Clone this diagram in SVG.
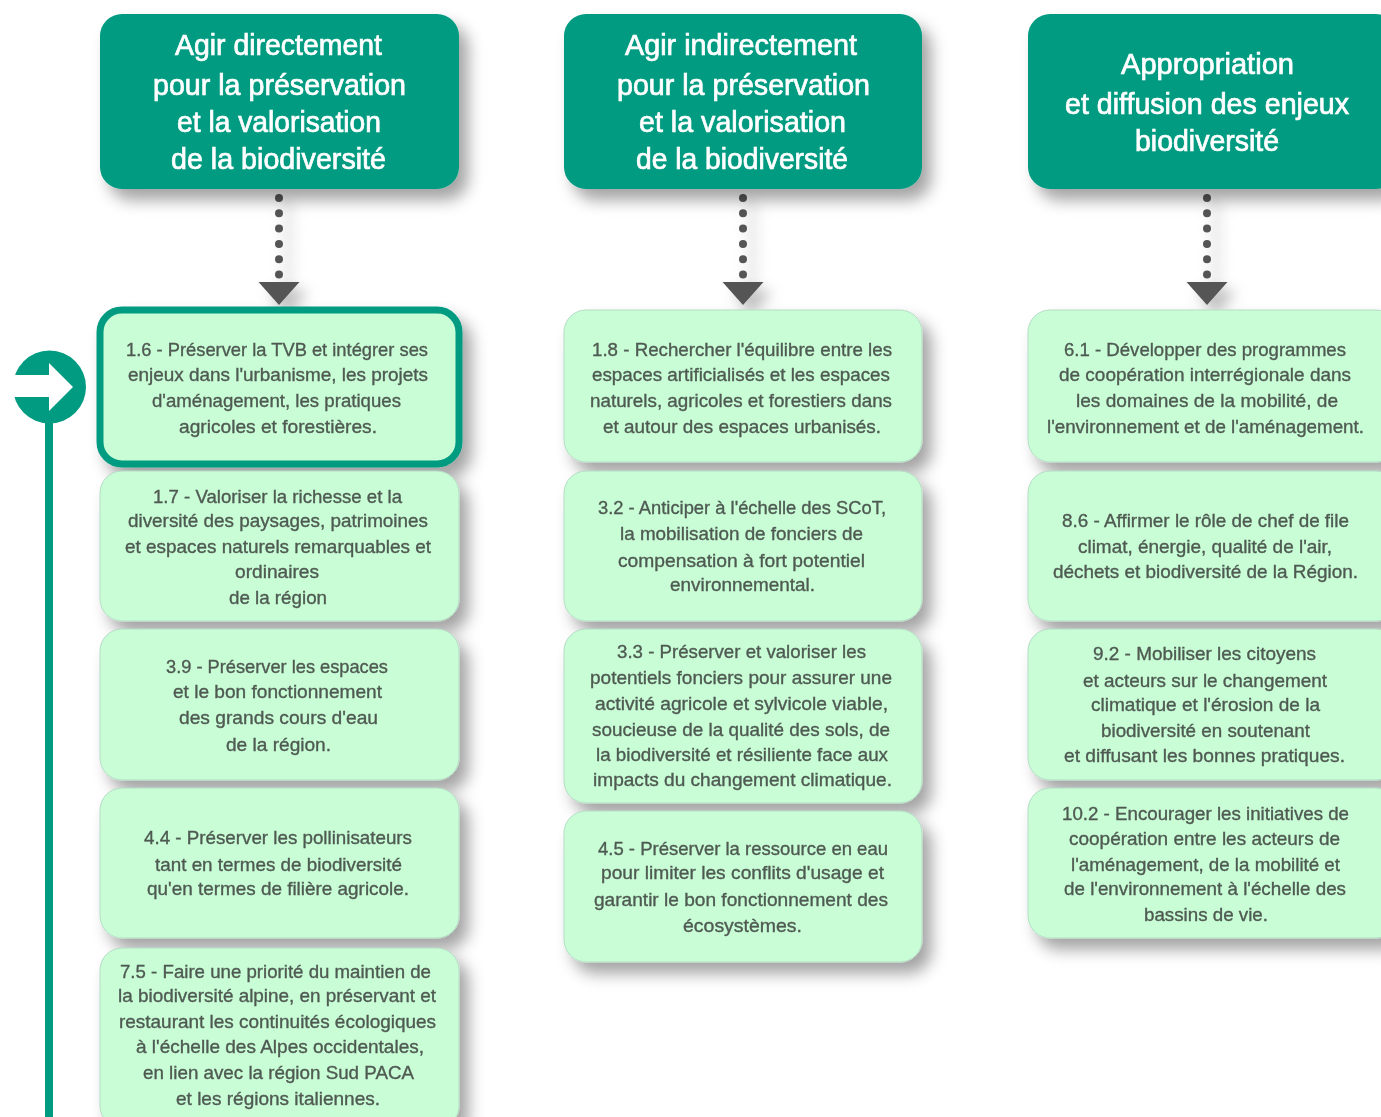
<svg xmlns="http://www.w3.org/2000/svg" width="1381" height="1117" viewBox="0 0 1381 1117">
<defs>
<filter id="sh" x="-15%" y="-20%" width="140%" height="155%"><feDropShadow dx="9" dy="11" stdDeviation="8" flood-color="#000" flood-opacity="0.36"/></filter>
<filter id="sha" x="-150%" y="-20%" width="400%" height="150%"><feDropShadow dx="9" dy="9" stdDeviation="7" flood-color="#000" flood-opacity="0.28"/></filter>
<filter id="soft" x="-5%" y="-20%" width="110%" height="140%"><feGaussianBlur stdDeviation="0.7"/></filter>
<filter id="edge" x="-5%" y="-5%" width="110%" height="110%"><feGaussianBlur stdDeviation="0.6"/></filter>
<g id="link"><g fill="#555"><circle cx="0" cy="198" r="4"/><circle cx="0" cy="213.300" r="4"/><circle cx="0" cy="228.600" r="4"/><circle cx="0" cy="243.900" r="4"/><circle cx="0" cy="259.200" r="4"/><circle cx="0" cy="274.500" r="4"/><path d="M-20.500 282H20.500L0 305Z"/></g></g>
</defs>
<style>
.h{fill:#009b80;filter:url(#sh)}
.b{fill:#c8fdd6;stroke:#b4dcc4;stroke-width:1;filter:url(#sh)}
.t{font-family:"Liberation Sans",Arial,sans-serif;text-anchor:middle;filter:url(#soft)}
.ht{font-size:29px;fill:#fff;stroke:#fff;stroke-width:0.7px}
.bt{font-size:18.500px;fill:#4f5a52;stroke:#4f5a52;stroke-width:0.35px}
</style>
<rect width="1381" height="1117" fill="#fff"/>
<g id="connectors">
<use href="#link" x="279" filter="url(#sha)"/>
<use href="#link" x="743" filter="url(#sha)"/>
<use href="#link" x="1207" filter="url(#sha)"/>
</g>
<g id="marker" filter="url(#edge)">
<rect x="45" y="415" width="8" height="702" fill="#009b80"/>
<circle cx="49.500" cy="387" r="36.500" fill="#009b80"/>
<path d="M10 375H49V363L73 387L49 411V397H10Z" fill="#fff"/>
</g>
<g id="head-1"><rect class="h" x="100" y="14" width="359" height="175" rx="22"/>
<g class="t ht"><text x="278.500" y="55" textLength="207" lengthAdjust="spacingAndGlyphs">Agir directement</text><text x="279.500" y="95" textLength="253" lengthAdjust="spacingAndGlyphs">pour la préservation</text><text x="279" y="132" textLength="204" lengthAdjust="spacingAndGlyphs">et la valorisation</text><text x="278.500" y="169" textLength="215" lengthAdjust="spacingAndGlyphs">de la biodiversité</text></g></g>
<g id="head-2"><rect class="h" x="564" y="14" width="358" height="175" rx="22"/>
<g class="t ht"><text x="741" y="55" textLength="232" lengthAdjust="spacingAndGlyphs">Agir indirectement</text><text x="743.500" y="95" textLength="253" lengthAdjust="spacingAndGlyphs">pour la préservation</text><text x="742.500" y="132" textLength="207" lengthAdjust="spacingAndGlyphs">et la valorisation</text><text x="742" y="169" textLength="212" lengthAdjust="spacingAndGlyphs">de la biodiversité</text></g></g>
<g id="head-3"><rect class="h" x="1028" y="14" width="370" height="175" rx="22"/>
<g class="t ht"><text x="1207.500" y="74" textLength="173" lengthAdjust="spacingAndGlyphs">Appropriation</text><text x="1207" y="114" textLength="284" lengthAdjust="spacingAndGlyphs">et diffusion des enjeux</text><text x="1207" y="151" textLength="144" lengthAdjust="spacingAndGlyphs">biodiversité</text></g></g>

<g id="n-1-6"><rect x="100" y="310" width="359" height="154" rx="22" fill="#c8fdd6" stroke="#009b80" stroke-width="7" filter="url(#sh)"/>
<g class="t bt"><text x="277" y="356" textLength="302" lengthAdjust="spacingAndGlyphs">1.6 - Préserver la TVB et intégrer ses</text><text x="278" y="381" textLength="300" lengthAdjust="spacingAndGlyphs">enjeux dans l'urbanisme, les projets</text><text x="276.500" y="407" textLength="249" lengthAdjust="spacingAndGlyphs">d'aménagement, les pratiques</text><text x="278" y="433" textLength="198" lengthAdjust="spacingAndGlyphs">agricoles et forestières.</text></g></g>
<g id="n-1-7"><rect class="b" x="100" y="471" width="359" height="150" rx="22"/>
<g class="t bt"><text x="277.500" y="503" textLength="249" lengthAdjust="spacingAndGlyphs">1.7 - Valoriser la richesse et la</text><text x="278" y="527" textLength="300" lengthAdjust="spacingAndGlyphs">diversité des paysages, patrimoines</text><text x="278" y="553" textLength="306" lengthAdjust="spacingAndGlyphs">et espaces naturels remarquables et</text><text x="277" y="578" textLength="84" lengthAdjust="spacingAndGlyphs">ordinaires</text><text x="278" y="604" textLength="98" lengthAdjust="spacingAndGlyphs">de la région</text></g></g>
<g id="n-3-9"><rect class="b" x="100" y="629" width="359" height="151" rx="22"/>
<g class="t bt"><text x="277" y="673" textLength="222" lengthAdjust="spacingAndGlyphs">3.9 - Préserver les espaces</text><text x="277.500" y="698" textLength="209" lengthAdjust="spacingAndGlyphs">et le bon fonctionnement</text><text x="278.500" y="724" textLength="199" lengthAdjust="spacingAndGlyphs">des grands cours d'eau</text><text x="278.500" y="751" textLength="105" lengthAdjust="spacingAndGlyphs">de la région.</text></g></g>
<g id="n-4-4"><rect class="b" x="100" y="788" width="359" height="150" rx="22"/>
<g class="t bt"><text x="278" y="844" textLength="268" lengthAdjust="spacingAndGlyphs">4.4 - Préserver les pollinisateurs</text><text x="278.500" y="871" textLength="247" lengthAdjust="spacingAndGlyphs">tant en termes de biodiversité</text><text x="278" y="895" textLength="262" lengthAdjust="spacingAndGlyphs">qu'en termes de filière agricole.</text></g></g>
<g id="n-7-5"><rect class="b" x="100" y="948" width="359" height="180" rx="22"/>
<g class="t bt"><text x="275.500" y="978" textLength="311" lengthAdjust="spacingAndGlyphs">7.5 - Faire une priorité du maintien de</text><text x="277" y="1002" textLength="318" lengthAdjust="spacingAndGlyphs">la biodiversité alpine, en préservant et</text><text x="277.500" y="1028" textLength="317" lengthAdjust="spacingAndGlyphs">restaurant les continuités écologiques</text><text x="280" y="1053" textLength="288" lengthAdjust="spacingAndGlyphs">à l'échelle des Alpes occidentales,</text><text x="278.500" y="1079" textLength="271" lengthAdjust="spacingAndGlyphs">en lien avec la région Sud PACA</text><text x="278" y="1105" textLength="204" lengthAdjust="spacingAndGlyphs">et les régions italiennes.</text></g></g>

<g id="n-1-8"><rect class="b" x="564" y="310" width="358" height="152" rx="22"/>
<g class="t bt"><text x="742" y="356" textLength="300" lengthAdjust="spacingAndGlyphs">1.8 - Rechercher l'équilibre entre les</text><text x="741" y="381" textLength="298" lengthAdjust="spacingAndGlyphs">espaces artificialisés et les espaces</text><text x="741" y="407" textLength="302" lengthAdjust="spacingAndGlyphs">naturels, agricoles et forestiers dans</text><text x="742" y="433" textLength="278" lengthAdjust="spacingAndGlyphs">et autour des espaces urbanisés.</text></g></g>
<g id="n-3-2"><rect class="b" x="564" y="471" width="358" height="150" rx="22"/>
<g class="t bt"><text x="742" y="514" textLength="288" lengthAdjust="spacingAndGlyphs">3.2 - Anticiper à l'échelle des SCoT,</text><text x="741.500" y="540" textLength="243" lengthAdjust="spacingAndGlyphs">la mobilisation de fonciers de</text><text x="741.500" y="567" textLength="247" lengthAdjust="spacingAndGlyphs">compensation à fort potentiel</text><text x="742.500" y="591" textLength="145" lengthAdjust="spacingAndGlyphs">environnemental.</text></g></g>
<g id="n-3-3"><rect class="b" x="564" y="629" width="358" height="174" rx="22"/>
<g class="t bt"><text x="741.500" y="658" textLength="249" lengthAdjust="spacingAndGlyphs">3.3 - Préserver et valoriser les</text><text x="741" y="684" textLength="302" lengthAdjust="spacingAndGlyphs">potentiels fonciers pour assurer une</text><text x="741.500" y="710" textLength="293" lengthAdjust="spacingAndGlyphs">activité agricole et sylvicole viable,</text><text x="741" y="736" textLength="298" lengthAdjust="spacingAndGlyphs">soucieuse de la qualité des sols, de</text><text x="742" y="761" textLength="292" lengthAdjust="spacingAndGlyphs">la biodiversité et résiliente face aux</text><text x="742.500" y="786" textLength="299" lengthAdjust="spacingAndGlyphs">impacts du changement climatique.</text></g></g>
<g id="n-4-5"><rect class="b" x="564" y="811" width="358" height="151" rx="22"/>
<g class="t bt"><text x="743" y="855" textLength="290" lengthAdjust="spacingAndGlyphs">4.5 - Préserver la ressource en eau</text><text x="742.500" y="879" textLength="283" lengthAdjust="spacingAndGlyphs">pour limiter les conflits d'usage et</text><text x="741" y="906" textLength="294" lengthAdjust="spacingAndGlyphs">garantir le bon fonctionnement des</text><text x="742.500" y="932" textLength="119" lengthAdjust="spacingAndGlyphs">écosystèmes.</text></g></g>

<g id="n-6-1"><rect class="b" x="1028" y="310" width="370" height="152" rx="22"/>
<g class="t bt"><text x="1205" y="356" textLength="282" lengthAdjust="spacingAndGlyphs">6.1 - Développer des programmes</text><text x="1205" y="381" textLength="292" lengthAdjust="spacingAndGlyphs">de coopération interrégionale dans</text><text x="1207" y="407" textLength="262" lengthAdjust="spacingAndGlyphs">les domaines de la mobilité, de</text><text x="1205.500" y="433" textLength="317" lengthAdjust="spacingAndGlyphs">l'environnement et de l'aménagement.</text></g></g>
<g id="n-8-6"><rect class="b" x="1028" y="471" width="370" height="150" rx="22"/>
<g class="t bt"><text x="1205.500" y="527" textLength="287" lengthAdjust="spacingAndGlyphs">8.6 - Affirmer le rôle de chef de file</text><text x="1205" y="553" textLength="254" lengthAdjust="spacingAndGlyphs">climat, énergie, qualité de l'air,</text><text x="1205.500" y="578" textLength="305" lengthAdjust="spacingAndGlyphs">déchets et biodiversité de la Région.</text></g></g>
<g id="n-9-2"><rect class="b" x="1028" y="629" width="370" height="151" rx="22"/>
<g class="t bt"><text x="1204.500" y="660" textLength="223" lengthAdjust="spacingAndGlyphs">9.2 - Mobiliser les citoyens</text><text x="1205" y="687" textLength="244" lengthAdjust="spacingAndGlyphs">et acteurs sur le changement</text><text x="1205.500" y="711" textLength="229" lengthAdjust="spacingAndGlyphs">climatique et l'érosion de la</text><text x="1205.500" y="737" textLength="209" lengthAdjust="spacingAndGlyphs">biodiversité en soutenant</text><text x="1204.500" y="762" textLength="281" lengthAdjust="spacingAndGlyphs">et diffusant les bonnes pratiques.</text></g></g>
<g id="n-10-2"><rect class="b" x="1028" y="788" width="370" height="150" rx="22"/>
<g class="t bt"><text x="1205.500" y="820" textLength="287" lengthAdjust="spacingAndGlyphs">10.2 - Encourager les initiatives de</text><text x="1204.500" y="845" textLength="271" lengthAdjust="spacingAndGlyphs">coopération entre les acteurs de</text><text x="1205.500" y="871" textLength="269" lengthAdjust="spacingAndGlyphs">l'aménagement, de la mobilité et</text><text x="1205" y="895" textLength="282" lengthAdjust="spacingAndGlyphs">de l'environnement à l'échelle des</text><text x="1206" y="921" textLength="124" lengthAdjust="spacingAndGlyphs">bassins de vie.</text></g></g>
</svg>
